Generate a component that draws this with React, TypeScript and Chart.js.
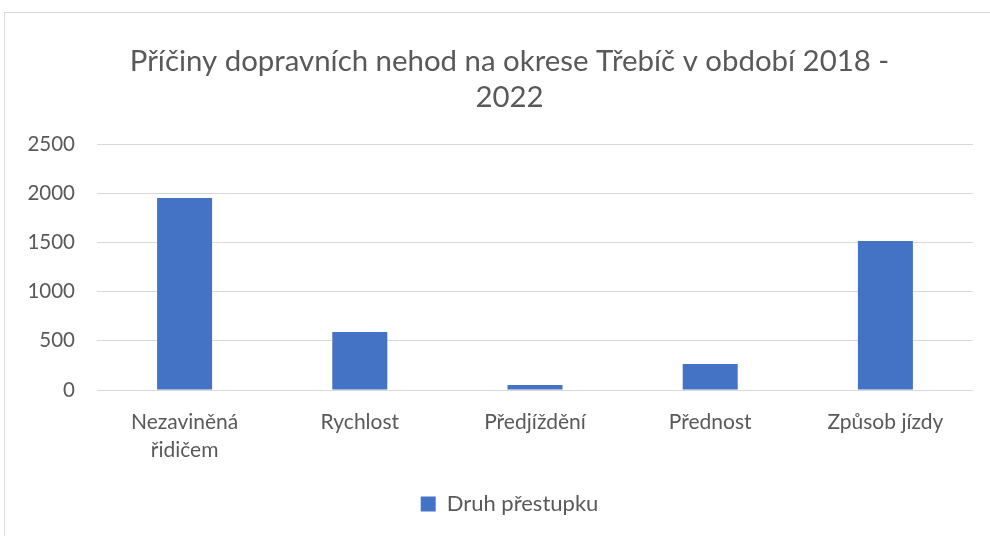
import React, { useEffect, useRef } from "react";
import { Chart, registerables } from "chart.js";

Chart.register(...registerables);

const categories: (string | string[])[] = [["Nezaviněná", "řidičem"], "Rychlost", "Předjíždění", "Přednost", "Způsob jízdy"];
const seriesName = "Druh přestupku";
const values = [1950, 590, 50, 265, 1515];
const titleLines = ["Příčiny dopravních nehod na okrese Třebíč v období 2018 -", "2022"];
const yMin = 0;
const yMax = 2500;
const yStep = 500;

const FONT = "Lato, 'Open Sans', sans-serif";
const TEXT = "#595959";

// Shift title & legend so they are centred on the Excel chart frame (wider than the view)
const centerShift = {
  id: "centerShift",
  afterLayout(chart: any) {
    if (chart.titleBlock) {
      chart.titleBlock.left = 46;
      chart.titleBlock.right = 973;
    }
    if (chart.legend) {
      chart.legend.left = 46;
      chart.legend.right = 973;
    }
  },
};

export default function App() {
  const ref = useRef<HTMLCanvasElement | null>(null);
  useEffect(() => {
    if (!ref.current) return;
    const chart = new Chart(ref.current, {
      type: "bar",
      data: {
        labels: categories,
        datasets: [
          {
            label: seriesName,
            data: values,
            backgroundColor: "#4472c4",
            borderWidth: 0,
            barPercentage: 0.314,
            categoryPercentage: 1,
          },
        ],
      },
      plugins: [centerShift],
      options: {
        animation: false,
        responsive: false,
        maintainAspectRatio: false,
        layout: { padding: { left: 0, right: 17, top: 0, bottom: 11 } },
        plugins: {
          title: {
            display: true,
            text: titleLines,
            color: TEXT,
            font: { family: FONT, size: 29.4, weight: "normal", lineHeight: 36 / 29.4 },
            padding: { top: 44, bottom: 28 },
          },
          legend: {
            position: "bottom",
            labels: {
              color: TEXT,
              font: { family: FONT, size: 22 },
              boxWidth: 15,
              boxHeight: 15,
              padding: 11,
            },
          },
          tooltip: { enabled: false },
        },
        scales: {
          x: {
            grid: { display: false, drawTicks: false },
            border: { display: false },
            ticks: {
              color: TEXT,
              font: { family: FONT, size: 21, lineHeight: 28 / 21 },
              padding: 18,
              maxRotation: 0,
              autoSkip: false,
            },
          },
          y: {
            min: yMin,
            max: yMax,
            afterFit: (scale: any) => {
              scale.width = 97;
            },
            grid: { color: "#d9d9d9", lineWidth: 1, drawTicks: false },
            border: { display: false },
            ticks: {
              stepSize: yStep,
              color: TEXT,
              font: { family: FONT, size: 20.5 },
              padding: 22,
              callback: (v: any) => String(v),
            },
          },
        },
      },
    });
    return () => chart.destroy();
  }, []);
  return (
    <div style={{ position: "fixed", left: 0, top: 0, width: 990, height: 536, overflow: "hidden", background: "#fff" }}>
      <div style={{ position: "absolute", left: 4, top: 12, width: 1000, height: 600, border: "1px solid #d9d9d9" }} />
      <canvas ref={ref} width={990} height={536} style={{ position: "absolute", left: 0, top: 0, width: 990, height: 536 }} />
    </div>
  );
}
